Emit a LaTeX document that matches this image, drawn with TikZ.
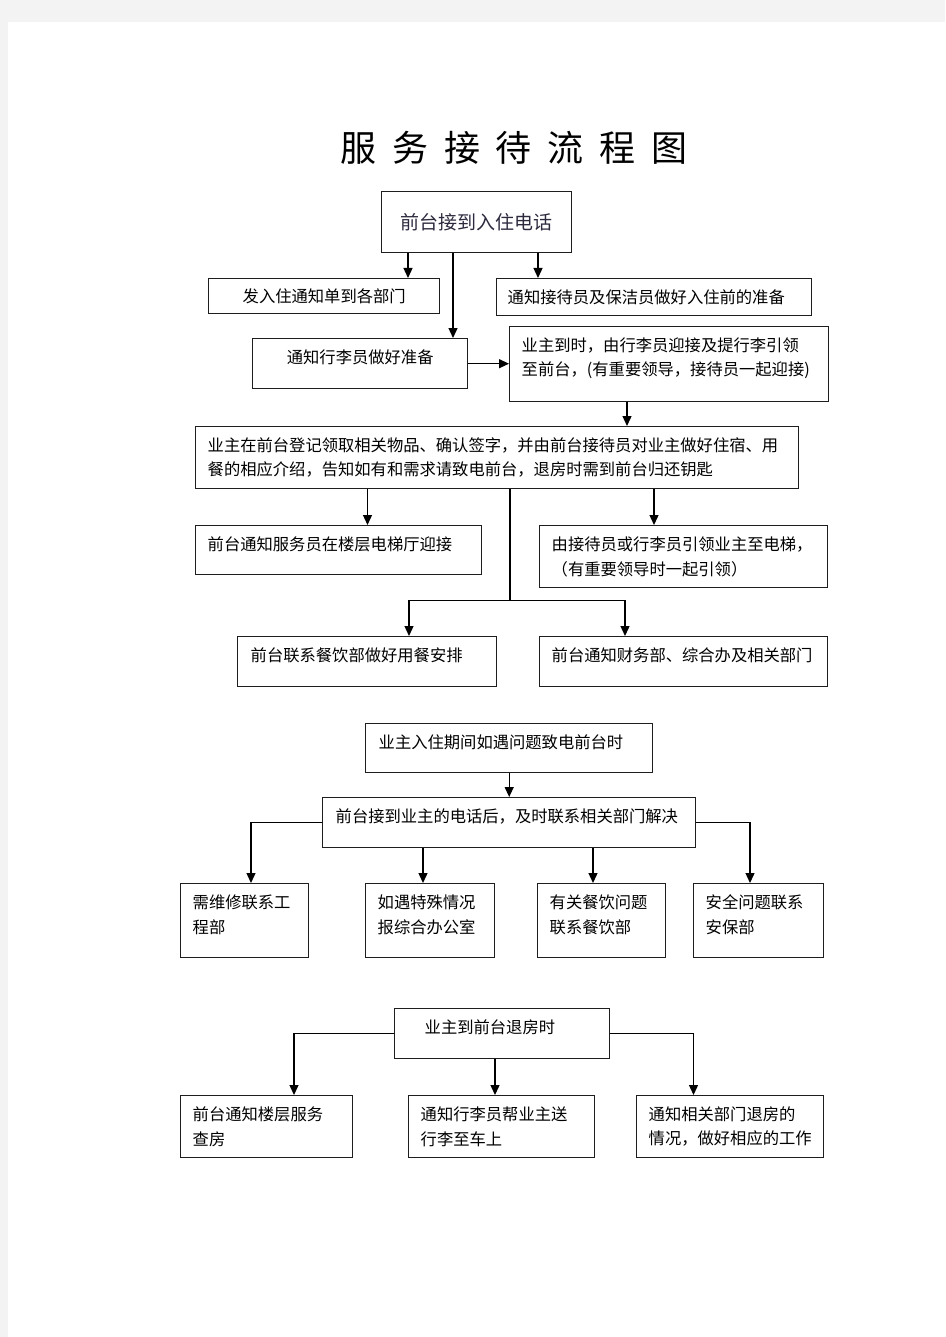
\documentclass[tikz,border=0pt]{standalone}
\usepackage{fontspec}
\newfontfamily\cjk{Noto Sans CJK SC}
\usetikzlibrary{arrows.meta,positioning}
\definecolor{pagegray}{RGB}{243,243,243}
\definecolor{boxgray}{RGB}{30,30,30}
\definecolor{inkgray}{RGB}{45,42,62}
\newcommand{\boxfont}{\cjk\fontsize{16.3pt}{24.5pt}\selectfont}
\newcommand{\tgap}{\hspace{15.7pt}}
\newcommand{\liftend}{\par\kern12pt}

\begin{document}
\begin{tikzpicture}[x=1pt,y=-1pt,
    box/.style={draw=boxgray,line width=1.4pt,anchor=north west,inner xsep=12pt,inner ysep=0pt,align=left,font=\boxfont},
    raise/.style={execute at end node=\liftend},
    link/.style={line width=1.3pt},
    >={Triangle[length=10pt,width=9pt]}]
  \useasboundingbox (0,0) rectangle (945,1337);
  \fill[pagegray] (0,0) rectangle (945,22);
  \fill[pagegray] (0,0) rectangle (8,1337);
  \node[font=\cjk\fontsize{36pt}{36pt}\selectfont] (title) at (514,148)
    {服\tgap 务\tgap 接\tgap 待\tgap 流\tgap 程\tgap 图};

  % check-in
  \node[box,align=center,minimum width=190pt,minimum height=61pt,text width=166pt,
    font=\cjk\fontsize{19pt}{24pt}\selectfont,text=inkgray] (phone) at (381,191) {前台接到入住电话};
  \node[box,align=center,minimum width=231pt,minimum height=35pt,text width=207pt] (notice) at (208,278) {发入住通知单到各部门};
  \node[box,inner xsep=11pt,minimum width=315pt,minimum height=37pt,text width=293pt] (prep) at (496,278) {通知接待员及保洁员做好入住前的准备};
  \node[box,raise,align=center,minimum width=215pt,minimum height=50pt,text width=191pt] (porter) at (252,338) {通知行李员做好准备};
  \node[box,raise,minimum width=319pt,minimum height=75pt,text width=295pt] (arrive) at (509,326)
    {业主到时，由行李员迎接及提行李引领\\至前台，(有重要领导，接待员一起迎接)};
  \node[box,minimum width=603pt,minimum height=62pt,text width=579pt] (register) at (195,426)
    {业主在前台登记领取相关物品、确认签字，并由前台接待员对业主做好住宿、用\\餐的相应介绍，告知如有和需求请致电前台，退房时需到前台归还钥匙};
  \node[box,raise,minimum width=286pt,minimum height=49pt,text width=262pt] (greet) at (195,525) {前台通知服务员在楼层电梯厅迎接};
  \node[box,minimum width=288pt,minimum height=62pt,text width=264pt] (lead) at (539,525)
    {由接待员或行李员引领业主至电梯，\\（有重要领导时一起引领）};
  \node[box,raise,inner xsep=13pt,minimum width=259pt,minimum height=50pt,text width=233pt] (dining) at (237,636) {前台联系餐饮部做好用餐安排};
  \node[box,raise,minimum width=288pt,minimum height=50pt,text width=264pt] (finance) at (539,636) {前台通知财务部、综合办及相关部门};

  \draw[link,->] ([xshift=27pt]phone.south west) -- ([xshift=27pt]phone.south west |- notice.north);
  \draw[link,->] ([xshift=72pt]phone.south west) -- ([xshift=72pt]phone.south west |- porter.north);
  \draw[link,->] ([xshift=157pt]phone.south west) -- ([xshift=157pt]phone.south west |- prep.north);
  \draw[link,->] (porter.east) -- (porter.east -| arrive.west);
  \draw[link,->] ([xshift=118pt]arrive.south west) -- ([xshift=118pt]arrive.south west |- register.north);
  \draw[link,->] ([xshift=172.5pt]register.south west) -- ([xshift=172.5pt]register.south west |- greet.north);
  \draw[link,->] ([xshift=459pt]register.south west) -- ([xshift=459pt]register.south west |- lead.north);
  \draw[link] ([xshift=315pt]register.south west) -- ++(0,111) coordinate (fork);
  \draw[link,->] (fork) -| ([xshift=172pt]dining.north west);
  \draw[link,->] (fork) -| ([xshift=86pt]finance.north west);

  % during the stay
  \node[box,raise,inner xsep=13pt,minimum width=287pt,minimum height=49pt,text width=261pt] (stay) at (365,723) {业主入住期间如遇问题致电前台时};
  \node[box,raise,inner xsep=13pt,minimum width=373pt,minimum height=50pt,text width=347pt] (callback) at (322,797) {前台接到业主的电话后，及时联系相关部门解决};
  \node[box,raise,minimum width=128pt,minimum height=74pt,text width=104pt] (repair) at (180,883) {需维修联系工\\程部};
  \node[box,raise,minimum width=129pt,minimum height=74pt,text width=105pt] (office) at (365,883) {如遇特殊情况\\报综合办公室};
  \node[box,raise,minimum width=128pt,minimum height=74pt,text width=104pt] (food) at (537,883) {有关餐饮问题\\联系餐饮部};
  \node[box,raise,minimum width=130pt,minimum height=74pt,text width=106pt] (safety) at (693,883) {安全问题联系\\安保部};

  \draw[link,->] (stay.south) -- (callback.north);
  \draw[link,->] (callback.west) -| ([xshift=71pt]repair.north west);
  \draw[link,->] ([xshift=101pt]callback.south west) -- ([xshift=101pt]callback.south west |- office.north);
  \draw[link,->] ([xshift=271pt]callback.south west) -- ([xshift=271pt]callback.south west |- food.north);
  \draw[link,->] (callback.east) -| ([xshift=57pt]safety.north west);

  % check-out
  \node[box,raise,inner xsep=30pt,minimum width=215pt,minimum height=50pt,text width=155pt] (checkout) at (394,1008) {业主到前台退房时};
  \node[box,minimum width=172pt,minimum height=62pt,text width=148pt] (room) at (180,1095) {前台通知楼层服务\\查房};
  \node[box,minimum width=186pt,minimum height=62pt,text width=162pt] (luggage) at (408,1095) {通知行李员帮业主送\\行李至车上};
  \node[box,minimum width=187pt,minimum height=62pt,text width=163pt] (depts) at (636,1095) {通知相关部门退房的\\情况，做好相应的工作};

  \draw[link,->] (checkout.west) -| ([xshift=114pt]room.north west);
  \draw[link,->] ([xshift=101pt]checkout.south west) -- ([xshift=101pt]checkout.south west |- luggage.north);
  \draw[link,->] (checkout.east) -| ([xshift=57.5pt]depts.north west);
\end{tikzpicture}
\end{document}
